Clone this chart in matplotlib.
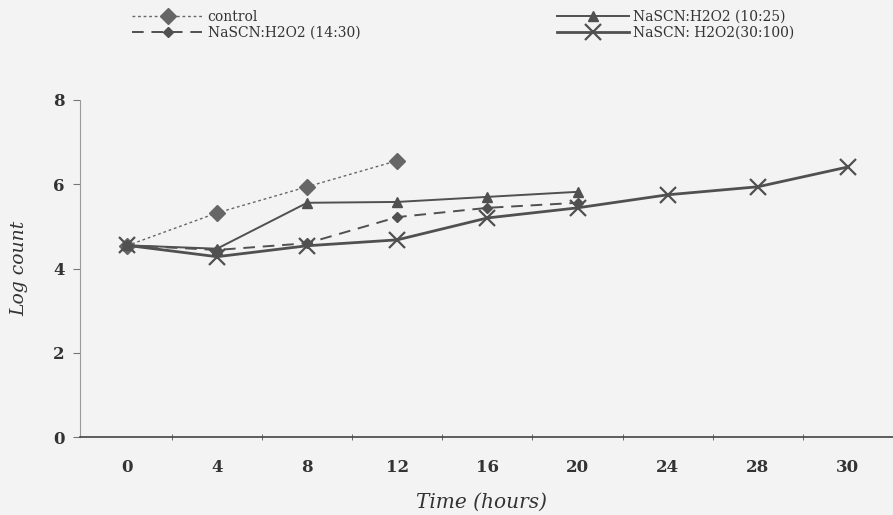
import numpy as np
import matplotlib
matplotlib.use("Agg")
import matplotlib.pyplot as plt
from matplotlib.lines import Line2D

plt.rcParams["font.family"] = ["DejaVu Serif"]

hours = ["0", "4", "8", "12", "16", "20", "24", "28", "30"]
control = [4.54, 5.32, 5.94, 6.56]
ratio_14_30 = [4.55, 4.44, 4.60, 5.22, 5.44, 5.56]
ratio_10_25 = [4.55, 4.47, 5.56, 5.58, 5.70, 5.82]
ratio_30_100 = [4.55, 4.28, 4.54, 4.68, 5.20, 5.44, 5.75, 5.94, 6.41]

W, H = 893, 515
fig = plt.figure(figsize=(W / 100, H / 100), dpi=100)
bg = "#f3f3f3"
fig.patch.set_facecolor(bg)
ax = fig.add_axes([80 / W, 1 - 437 / H, 1 - 80 / W, (437 - 100) / H])
ax.set_facecolor(bg)

lc = "#505050"
x = np.arange(len(hours))

ax.plot(x[:len(control)], control, color="#666666", ls=(0, (2, 2)), lw=1.0,
        marker="D", ms=8, mfc="#666666", mec="#666666")
ax.plot(x[:len(ratio_14_30)], ratio_14_30, color=lc, ls=(0, (6, 4)), lw=1.4,
        marker="D", ms=5, mfc=lc, mec=lc)
ax.plot(x[:len(ratio_10_25)], ratio_10_25, color=lc, ls="-", lw=1.4,
        marker="^", ms=7, mfc=lc, mec=lc)
ax.plot(x[:len(ratio_30_100)], ratio_30_100, color=lc, ls="-", lw=2.0,
        marker="x", ms=11, mew=1.6, mec=lc)

ax.set_xlim(-0.52, 8.5)
ax.set_ylim(0, 8)
ax.set_xticks(x)
ax.set_xticklabels(hours, fontweight="bold", fontsize=12)
ax.set_xticks(x[:-1] + 0.5, minor=True)
ax.tick_params(axis="x", which="major", length=0, pad=16, colors="#333333")
ax.tick_params(axis="x", which="minor", length=5, direction="inout", color="#555555")
ax.set_yticks([0, 2, 4, 6, 8])
ax.set_yticklabels(["0", "2", "4", "6", "8"], fontweight="bold", fontsize=12)
ax.tick_params(axis="y", length=5, direction="out", pad=6, color="#777777", colors="#333333")

for s in ["top", "right"]:
    ax.spines[s].set_visible(False)
ax.spines["left"].set_color("#999999")
ax.spines["left"].set_linewidth(0.8)
ax.spines["left"].set_linestyle((0, (6, 1, 1, 1)))
ax.spines["bottom"].set_color("#444444")
ax.spines["bottom"].set_linewidth(1.2)

ax.set_ylabel("Log count", fontstyle="italic", fontsize=13.5, labelpad=18, color="#333333")
ax.set_xlabel("Time (hours)", fontstyle="italic", fontsize=14.5, color="#333333")
ax.xaxis.set_label_coords((481 - 80) / (W - 80), -(493 - 437) / (437 - 100))

h1 = [
    Line2D([], [], color="#666666", ls=(0, (2, 2)), lw=1.0, marker="D", ms=8, mfc="#666666", mec="#666666"),
    Line2D([], [], color=lc, ls=(0, (6, 4)), lw=1.4, marker="D", ms=5, mfc=lc, mec=lc),
]
h2 = [
    Line2D([], [], color=lc, ls="-", lw=1.4, marker="^", ms=7, mfc=lc, mec=lc),
    Line2D([], [], color=lc, ls="-", lw=2.0, marker="x", ms=11, mew=1.6, mec=lc),
]
kw = dict(frameon=False, fontsize=10, handlelength=5.2, handletextpad=0.25,
          labelspacing=0.1, borderaxespad=0, borderpad=0, labelcolor="#333333")
fig.legend(h1, ["control", "NaSCN:H2O2 (14:30)"], loc="upper left",
           bbox_to_anchor=(132 / W, 1 - 10 / H), **kw)
fig.legend(h2, ["NaSCN:H2O2 (10:25)", "NaSCN: H2O2(30:100)"], loc="upper left",
           bbox_to_anchor=(557 / W, 1 - 10 / H), **kw)

fig.savefig("out.png", dpi=100, facecolor=bg)
